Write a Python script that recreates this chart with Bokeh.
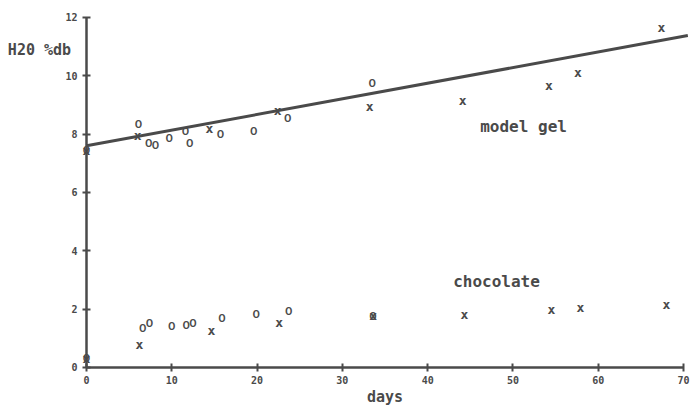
from bokeh.plotting import figure
from bokeh.models import ColumnDataSource, LabelSet, Label, FixedTicker, Range1d
from bokeh.core.properties import value
from bokeh.embed import file_html
from bokeh.resources import INLINE

# ---- data ----
gel_x_days = [0, 6.0, 14.4, 22.4, 33.2, 44.1, 54.2, 57.6, 67.4]
gel_x_h2o = [7.44, 7.95, 8.19, 8.81, 8.95, 9.15, 9.67, 10.11, 11.66]

gel_o_days = [0, 6.1, 7.3, 8.1, 9.7, 11.6, 12.1, 15.7, 19.6, 23.6, 33.5]
gel_o_h2o = [7.44, 8.36, 7.68, 7.61, 7.88, 8.12, 7.71, 8.02, 8.09, 8.54, 9.74]

choc_x_days = [0, 6.2, 14.65, 22.6, 33.6, 44.3, 54.5, 57.9, 68.0]
choc_x_h2o = [0.31, 0.79, 1.27, 1.54, 1.78, 1.82, 1.99, 2.06, 2.16]

choc_o_days = [0, 6.6, 7.4, 10.0, 11.7, 12.5, 15.9, 19.9, 23.7, 33.6]
choc_o_h2o = [0.31, 1.37, 1.54, 1.41, 1.44, 1.54, 1.71, 1.82, 1.92, 1.78]

fit_days = [0, 70.5]
fit_gel = [7.6, 11.38]

x_ticks = [0, 10, 20, 30, 40, 50, 60, 70]
y_ticks = [0, 2, 4, 6, 8, 10, 12]

INK = "#4a4a4a"
MONO = "DejaVu Sans Mono"

p = figure(width=691, height=408, output_backend="svg", toolbar_location=None,
           x_range=Range1d(-10.08, 70.93), y_range=Range1d(-1.406, 12.58),
           min_border=0)
p.grid.visible = False
p.outline_line_color = None
p.background_fill_color = "white"

for ax in (p.xaxis[0], p.yaxis[0]):
    ax.axis_line_color = INK
    ax.axis_line_width = 2.5
    ax.major_tick_line_color = INK
    ax.major_tick_line_width = 2
    ax.major_tick_in = 4
    ax.major_tick_out = 4
    ax.minor_tick_line_color = None
    ax.major_label_text_font = MONO
    ax.major_label_text_font_style = "bold"
    ax.major_label_text_font_size = "10px"
    ax.major_label_text_color = INK
    ax.major_label_standoff = 5

p.yaxis.fixed_location = 0
p.xaxis.fixed_location = 0
p.xaxis.bounds = (0, 70)
p.yaxis.bounds = (0, 12)
p.xaxis.ticker = FixedTicker(ticks=x_ticks)
p.yaxis.ticker = FixedTicker(ticks=y_ticks)
p.xaxis.axis_label = "days"
p.xaxis.axis_label_text_font = MONO
p.xaxis.axis_label_text_font_style = "bold"
p.xaxis.axis_label_text_font_size = "15px"
p.xaxis.axis_label_text_color = INK
p.xaxis.axis_label_standoff = 0

p.line(fit_days, fit_gel, line_color=INK, line_width=3)

def markers(xs, ys, ch, font, size):
    src = ColumnDataSource(dict(x=xs, y=ys, t=[ch] * len(xs)))
    p.add_layout(LabelSet(x="x", y="y", text="t", source=src,
                          text_font=value(font), text_font_style="bold",
                          text_font_size=size, text_color=INK,
                          text_align="center", text_baseline="middle"))

markers(gel_x_days, gel_x_h2o, "x", MONO, "13px")
markers(gel_o_days, gel_o_h2o, "0", "Lato", "12px")
markers(choc_x_days, choc_x_h2o, "x", MONO, "13px")
markers(choc_o_days, choc_o_h2o, "0", "Lato", "12px")

for txt, lx, ly, fs in [("model gel", 51.24, 8.26, "16px"),
                        ("chocolate", 48.07, 2.95, "16px"),
                        ("H20 %db", -5.51, 10.9, "15px")]:
    p.add_layout(Label(x=lx, y=ly, text=txt, text_font=MONO,
                       text_font_style="bold", text_font_size=fs,
                       text_color=INK, text_align="center",
                       text_baseline="middle"))

open("out.html", "w").write(file_html(p, INLINE))
